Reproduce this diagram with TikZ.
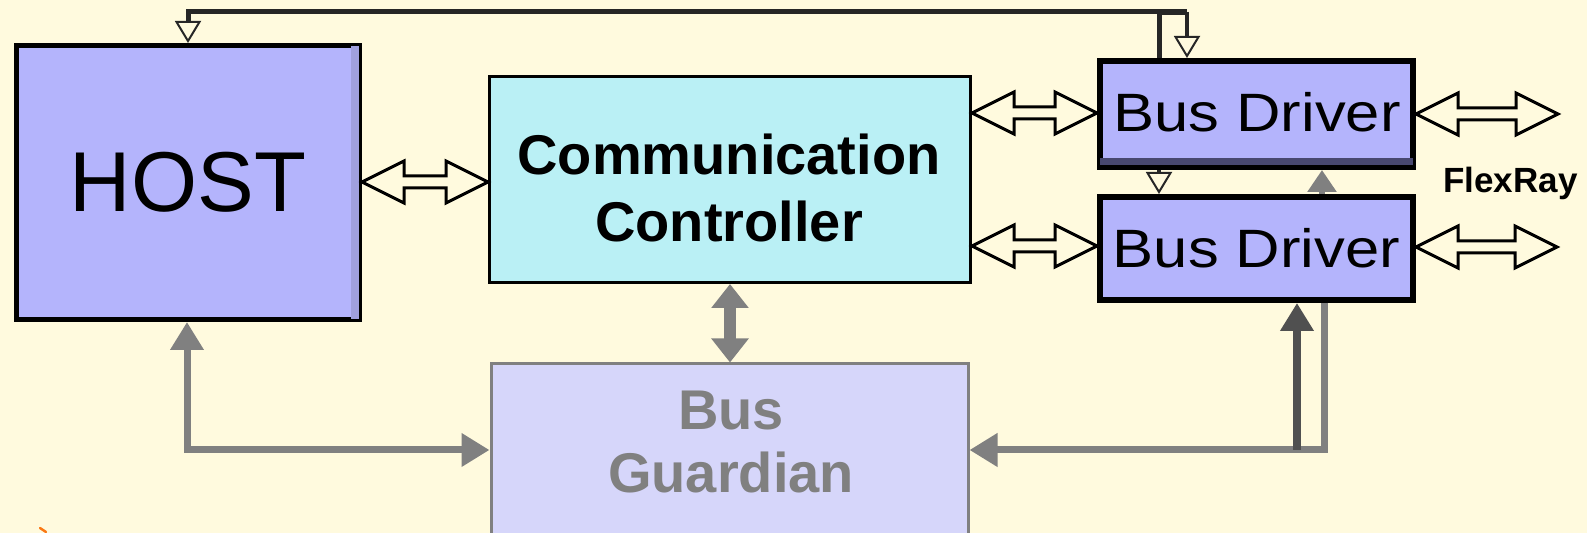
\documentclass[tikz,border=0pt]{standalone}
\usepackage{fontspec}
\setmainfont{Liberation Sans}
\usetikzlibrary{arrows.meta,calc}

\definecolor{paper}{RGB}{255,250,222}
\definecolor{hostfill}{RGB}{180,180,252}
\definecolor{ctrlfill}{RGB}{186,240,245}
\definecolor{guardfill}{RGB}{214,214,250}
\definecolor{wire}{RGB}{128,128,128}
\definecolor{wiredark}{RGB}{80,80,80}
\definecolor{edgeshade}{RGB}{160,160,222}
\definecolor{baseshade}{RGB}{72,72,112}
\definecolor{tick}{RGB}{250,120,20}

% hollow double-headed block arrow between two points on one horizontal line
\newcommand\hollowlink[2]{%
  \draw[hollow] (#1) -- ($(#1)+(42,-21)$) -- ($(#1)+(42,-6)$)
    -- ($(#2)+(-42,-6)$) -- ($(#2)+(-42,-21)$) -- (#2)
    -- ($(#2)+(-42,21)$) -- ($(#2)+(-42,6)$)
    -- ($(#1)+(42,6)$) -- ($(#1)+(42,21)$) -- cycle;}

\begin{document}
\begin{tikzpicture}[x=0.5pt,y=-0.5pt,
  hostbox/.style={draw=black,line width=2.5pt,fill=hostfill,inner sep=0pt},
  ctrlbox/.style={draw=black,line width=1.5pt,fill=ctrlfill,inner sep=0pt},
  drvbox/.style={draw=black,line width=3pt,fill=hostfill,inner sep=0pt,
    font=\fontsize{27pt}{32pt}\selectfont},
  guardbox/.style={draw=wire,line width=1.5pt,fill=guardfill,inner sep=0pt},
  hosttext/.style={inner sep=0pt,font=\fontsize{42.5pt}{50pt}\selectfont},
  ctrltext/.style={align=center,inner sep=0pt,
    font=\fontsize{28pt}{33.5pt}\selectfont\bfseries},
  guardtext/.style={align=center,inner sep=0pt,text=wire,
    font=\fontsize{28pt}{31.5pt}\selectfont\bfseries},
  hollow/.style={draw=black,line width=1.5pt,line join=miter},
  blackwire/.style={draw=black!85,line width=2.5pt},
  openhead/.style={-{Triangle[open,width=13pt,length=11pt,line width=1pt]}},
  greywire/.style={draw=wire,line width=3.5pt},
  greyhead/.style={-{Triangle[width=16pt,length=14pt]}},
  greyboth/.style={{Triangle[width=16pt,length=14pt]}-{Triangle[width=16pt,length=14pt]}}
]
\fill[paper] (0,0) rectangle (1587,533);
\useasboundingbox (0,0) rectangle (1587,533);

% blocks
\node[hostbox,minimum width=171.5pt,minimum height=137pt] (host) at (188,182.5) {};
\fill[edgeshade] (351,46) rectangle (359,319);
\node[hosttext] (hostlabel) at (188,182.5) {HOST};

\node[ctrlbox,minimum width=240.5pt,minimum height=103pt] (cc) at (730,179.5) {};
\node[ctrltext] (cclabel) at (729,187.5) {Communication\\Controller};

\node[drvbox,minimum width=156.5pt,minimum height=53pt] (bd1) at (1256.5,114) {};
\fill[baseshade] (1100,158) rectangle (1413,165);
\node[font=\fontsize{27pt}{32pt}\selectfont] (bd1label) at (1257,112)
  {\scalebox{1.14}[1]{Bus Driver}};

\node[drvbox,minimum width=156.5pt,minimum height=51.5pt] (bd2) at (1256.5,248.5)
  {\scalebox{1.14}[1]{Bus Driver}};

\node[guardbox,minimum width=238.5pt,minimum height=90pt] (bg) at (729.5,454) {};
\node[guardtext] (bglabel) at (731,442.5) {Bus\\Guardian};

\node[anchor=base west,inner sep=0pt,font=\fontsize{17.5pt}{20pt}\selectfont\bfseries]
  (bus) at (1443,193) {FlexRay};

% hollow data links
\coordinate (hc1) at (host.east |- 0,182);
\coordinate (hc2) at (cc.west |- 0,182);
\hollowlink{hc1}{hc2}
\coordinate (b1l) at (cc.east |- 0,113);
\coordinate (b1r) at (bd1.west |- 0,113);
\hollowlink{b1l}{b1r}
\coordinate (b2l) at (cc.east |- 0,246);
\coordinate (b2r) at (bd2.west |- 0,246);
\hollowlink{b2l}{b2r}
\coordinate (o1a) at (bd1.east |- 0,114);
\coordinate (o1b) at (1558,114);
\hollowlink{o1a}{o1b}
\coordinate (o2a) at (bd2.east |- 0,247);
\coordinate (o2b) at (1557,247);
\hollowlink{o2a}{o2b}

% top feedback lines
\coordinate (topjoin) at (1159,12);
\coordinate (bdin) at (1187,12);
\draw[blackwire,line width=3pt] (topjoin) -- (bdin);
\draw[blackwire,openhead] (bd1.north -| topjoin) -- (topjoin) -| (host.north);
\draw[blackwire,line width=2pt,openhead] (bdin) -- (bd1.north -| bdin);

% between the two bus drivers
\draw[blackwire,line width=2pt,openhead] (bd1.south -| topjoin) -- (bd2.north -| topjoin);
\coordinate (upx) at (1322,0);
\draw[greywire,line width=3pt,-{Triangle[width=14pt,length=11pt]}] (bd2.north -| upx) -- (bd1.south -| upx);

% controller <-> guardian
\draw[greywire,line width=6pt,{Triangle[width=18pt,length=12pt]}-{Triangle[width=18pt,length=12pt]}]
  (cc.south) -- (cc.south |- bg.north);

% guardian <-> host
\coordinate (hostcorner) at (187,450);
\draw[greywire,greyboth] (bg.west |- hostcorner) -- (hostcorner) -- (host.south -| hostcorner);

% bus driver 2 <-> guardian
\coordinate (rcorner) at (1324,450);
\coordinate (rup) at (1297,450);
\draw[greywire,greyhead] (bd2.south -| rcorner) -- (rcorner) -- (bg.east |- rcorner);
\draw[greywire,draw=wiredark,line width=4pt,-{Triangle[width=16pt,length=14pt]}]
  (rup) -- (bd2.south -| rup);

% small orange stroke
\draw[tick,line width=1.2pt,line cap=round] (40,528) -- (46,532);
\end{tikzpicture}
\end{document}
